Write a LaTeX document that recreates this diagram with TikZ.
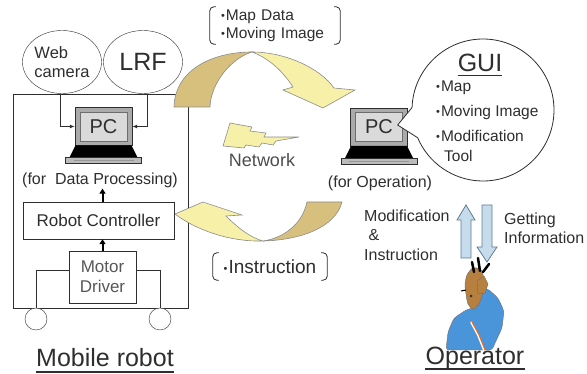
\documentclass[tikz,border=0pt]{standalone}
\usepackage{fontspec}
\setmainfont{Liberation Sans}
\usetikzlibrary{arrows.meta,positioning,shapes.geometric}
\definecolor{ink}{HTML}{2E2E2E}
\definecolor{tan}{HTML}{D7C07E}
\definecolor{cream}{HTML}{F6F0A8}
\definecolor{sky}{HTML}{C6DCEC}
\definecolor{skyline}{HTML}{5C7C92}
\definecolor{shirt}{HTML}{4A94DA}
\definecolor{skin}{HTML}{B8803F}
\definecolor{screen}{HTML}{DADADA}
\definecolor{casing}{HTML}{8E8E8E}
% list dot in front of the items
\newcommand\itemdot{\raisebox{.1ex}{\fontsize{11}{11}\selectfont\textbullet}\hspace{1pt}}

% notebook PC, origin at the middle of the display
\tikzset{
  laptop/.pic={
    \node[draw=ink,fill=casing!75,minimum width=57pt,minimum height=38pt] (-body) at (0,0) {};
    \node[draw=ink!70,fill=screen,minimum width=47pt,minimum height=29pt,text=ink,font=\fontsize{20}{22}\selectfont] (-screen) at (0,0) {PC};
    \fill[black] (-28,19) -- (28,19) -- (34,31) -- (-34,31) -- cycle;
    \draw[draw=ink,fill=casing!60] (-38,31) rectangle (38,37);
    \draw[ink!50] (-30,34) -- (30,34);
  }
}

\begin{document}
\begin{tikzpicture}[x=1pt,y=-1pt,
  txt/.style={text=ink,font=\fontsize{16}{19.5}\selectfont,inner sep=1pt},
  small/.style={text=ink,font=\fontsize{15.5}{18}\selectfont,inner sep=1pt},
  box/.style={draw=ink,fill=white,text=ink,font=\fontsize{17}{20}\selectfont,align=center,inner sep=2pt},
  sensor/.style={ellipse,draw=ink,fill=white,text=ink,minimum width=79pt,minimum height=63pt,inner sep=0},
  wheel/.style={circle,draw=ink,fill=white,minimum size=22pt,inner sep=0},
  feed/.style={-{Latex[length=5pt,width=4pt]},line width=1pt,draw=ink},
  bus/.style={-{Triangle[length=5pt,width=6pt]},line width=2pt,draw=black},
  bracket/.style={draw=ink,rounded corners=4pt,line width=.8pt},
  title/.style={text=ink,font=\fontsize{25}{28}\selectfont,inner sep=0},
  flow/.style={draw=skyline,fill=sky,line width=.8pt},
  ribbon/.style={draw=ink!55,line width=.6pt}
]
\useasboundingbox (0,0) rectangle (587,374);

%% mobile robot
\node[draw=ink,line width=.8pt,minimum width=175pt,minimum height=214pt] (robot) at (100.5,201) {};
\node[sensor,align=left,font=\fontsize{16.5}{19}\selectfont] (web) at (62,62) {Web\\camera};
\node[sensor,font=\fontsize{25}{28}\selectfont] (lrf) at (143,62) {LRF};
\pic (pcl) at (103.5,126.5) {laptop};
\node[txt] (proc) at (100,180) {(for\ \ Data Processing)};
\node[box,minimum width=151pt,minimum height=37pt] (ctrl) at (98.5,220.5) {Robot Controller};
\node[box,minimum width=67pt,minimum height=52pt,text=ink!80] (motor) at (102.5,277) {Motor\\Driver};
\node[wheel] (wl) at (36,319) {};
\node[wheel] (wr) at (160,319) {};

\draw[feed] ([xshift=-2pt]web.south) |- (pcl-body.west);
\draw[feed] ([xshift=4pt]lrf.south) |- (pcl-body.east);
\draw[bus] (motor.north) -- (motor.north |- ctrl.south);
\draw[bus] (motor.north |- ctrl.north) -- (motor.north |- proc.south);
\draw[draw=ink,line width=.8pt] ([yshift=7pt]motor.west) -| (wl.north);
\draw[draw=ink,line width=.8pt] ([yshift=7pt]motor.east) -| (wr.north);

\node[title] (mobile) at (105,358) {Mobile robot};
\draw[line width=1.6pt,ink] ([yshift=-5pt]mobile.base west) -- ([yshift=-5pt]mobile.base east);

%% data sent to the operator
\filldraw[ribbon,fill=tan] (174,107) .. controls (175,70) and (212,52) .. (252,52)
  .. controls (232,58) and (211,82) .. (210,107) -- cycle;
\filldraw[ribbon,fill=cream] (252,52) .. controls (285,52) and (320,68) .. (334,88)
  -- (355,90) -- (323,108) -- (283,90) -- (293,87)
  .. controls (282,70) and (268,58) .. (252,52) -- cycle;
\node[small,align=left,text width=108pt,inner xsep=11pt,minimum height=37pt] (maps) at (275,25.5) {\itemdot Map Data\\\itemdot Moving Image};
\draw[bracket] ([xshift=6pt]maps.north west) -| (maps.south west) -- ++(6,0);
\draw[bracket] ([xshift=-6pt]maps.north east) -| (maps.south east) -- ++(-6,0);

%% network
\filldraw[ribbon,fill=cream] (230,123) -- (252,127) -- (250,131) -- (266,133) -- (264,137)
  -- (299,137) -- (276,141) -- (273,145) -- (262,143) -- (259,147) -- (246,145)
  -- (244,148) -- (223,146) -- cycle;
\node[text=ink!85,font=\fontsize{18}{20}\selectfont] (net) at (262,160) {Network};

%% instruction sent back to the robot
\filldraw[ribbon,fill=cream] (175,214) -- (203,202) -- (242,215) -- (226,216)
  .. controls (240,230) and (252,238) .. (263,241)
  .. controls (230,242) and (196,230) .. (175,214) -- cycle;
\filldraw[ribbon,fill=tan] (263,241) .. controls (300,240) and (335,228) .. (342,202)
  -- (307,202) .. controls (302,225) and (283,238) .. (263,241) -- cycle;
\node[txt,font=\fontsize{19}{21}\selectfont,minimum width=114pt,minimum height=27pt] (instr) at (270,266.5) {\itemdot Instruction};
\draw[bracket] ([xshift=6pt]instr.north west) -| (instr.south west) -- ++(6,0);
\draw[bracket] ([xshift=-6pt]instr.north east) -| (instr.south east) -- ++(-6,0);

%% operator side
\pic (pcr) at (379,127) {laptop};
\node[txt] (oper) at (380,183) {(for Operation)};

\coordinate (gc) at (483,110);
\filldraw[draw=ink,fill=white,line width=.8pt] ([xshift=-5pt,yshift=2pt]pcr-screen.east)
  -- ([shift={(182:71)}]gc) arc[start angle=182,end angle=517,radius=71] -- cycle;
\node[title] (gui) at (480,63) {GUI};
\draw[line width=1.4pt,ink] ([yshift=-4pt]gui.base west) -- ([yshift=-4pt]gui.base east);
\node[small,anchor=west] (gmap) at (435,88) {\itemdot Map};
\node[small,anchor=west] (gimg) at (435,112) {\itemdot Moving Image};
\node[small,anchor=west] (gmod) at (435,136) {\itemdot Modification};
\node[small,anchor=west] (gtool) at (443,156) {Tool};

% block arrows between operator and GUI
\coordinate (up) at (466,205);
\coordinate (down) at (487,262);
\filldraw[flow] (up) -- ++(9,15) -- ++(-4,0) -- ++(0,38) -- ++(-10,0) -- ++(0,-38) -- ++(-4,0) -- cycle;
\filldraw[flow] (down) -- ++(10,-15) -- ++(-5,0) -- ++(0,-42) -- ++(-10,0) -- ++(0,42) -- ++(-5,0) -- cycle;
\node[txt,align=left,anchor=west] (modif) at (363,235) {Modification\\\ \&\\Instruction};
\node[txt,align=left,anchor=west] (get) at (503,228.5) {Getting\\Information};

% operator scratching his head
\filldraw[draw=ink!70,fill=shirt,rounded corners=3pt] (446,350) -- (448,332) -- (454,318)
  -- (466,310) -- (476,307) -- (480,303) -- (477,296) -- (480,288) -- (488,289)
  -- (498,298) -- (504,311) -- (502,328) -- (495,343) -- (492,350) -- cycle;
\draw[line width=2pt,white] (471,322) -- (478,335) -- (484,350);
\draw[line width=1pt,orange!80!red] (472,322) -- (479,335) -- (485,350);
\filldraw[draw=ink!70,fill=skin] plot[smooth cycle] coordinates {(467,275) (473,268) (481,270)
  (484,280) (483,292) (479,304) (473,309) (468,304) (466,294) (465,285)};
\filldraw[draw=ink!70,fill=skin] (477,281) -- (484,276) -- (488,284) -- (485,293) -- (478,294) -- cycle;
\draw[line width=2.5pt,black,line cap=round] (472,262) -- (474,272);
\draw[line width=2.5pt,black,line cap=round] (478,258) -- (480,271);
\draw[line width=2.5pt,black,line cap=round] (489,264) -- (483,272);
\fill[black!80] (471,296) circle (1.5pt);
\draw[black,line width=1pt] (461,291) -- (466,290);

\node[title] (opname) at (475,358) {Operator};
\draw[line width=1.6pt,ink] ([yshift=-5pt]opname.base west) -- ([yshift=-5pt]opname.base east);
\end{tikzpicture}
\end{document}
